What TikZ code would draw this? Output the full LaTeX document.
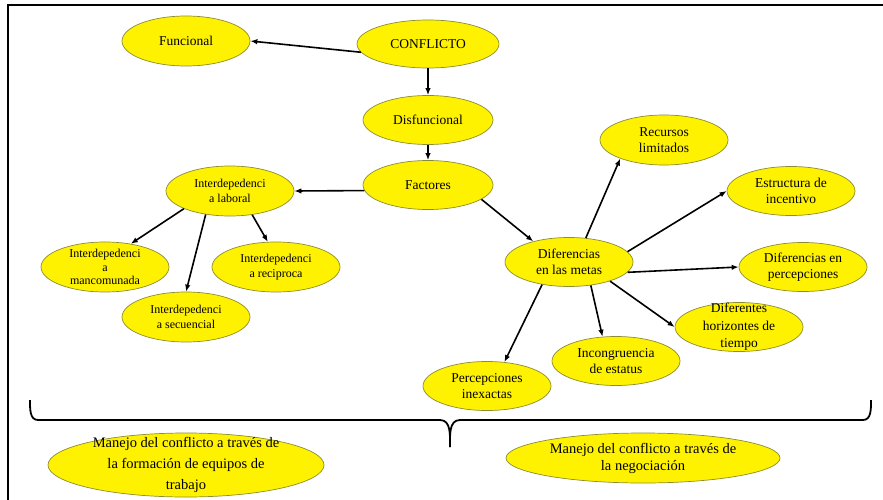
\documentclass[tikz,border=0pt]{standalone}
\usepackage{fontspec}
\setmainfont{Liberation Serif}
\usetikzlibrary{shapes.geometric,arrows.meta}
\tikzset{
  bubble/.style={ellipse,fill=yellow,draw={rgb,255:red,140;green,140;blue,50},line width=0.7pt,
    minimum width=128pt,minimum height=49pt,inner sep=0pt,align=center,
    font=\fontsize{13.5}{16.5}\selectfont},
  smalltext/.style={font=\fontsize{12}{14.5}\selectfont},
  link/.style={->,line width=1.6pt},
}

\begin{document}
\begin{tikzpicture}[>={Latex[length=7pt,width=5.5pt]},x=1pt,y=-1pt]
  \useasboundingbox (0,0) rectangle (883,500);
  \draw[line width=2pt] (7.5,500) -- (7.5,5.5) -- (883,5.5);
  \node[bubble,minimum width=142pt,minimum height=48pt] (conf) at (428,44) {CONFLICTO};
  \node[bubble,minimum height=50pt] (func) at (186,41) {Funcional};
  \node[bubble,minimum width=130pt] (disf) at (428,120) {Disfuncional};
  \node[bubble,minimum width=130pt] (fact) at (428,185) {Factores};
  \node[bubble,smalltext,minimum height=50pt] (lab) at (230,191) {Interdepedenci\\a laboral};
  \node[bubble,minimum height=50pt,font=\fontsize{12}{13.3}\selectfont,inner ysep=-3pt] (manc) at (105,267) {Interdepedenci\\a\\mancomunada};
  \node[bubble,smalltext,minimum height=50pt] (reci) at (276,267) {Interdepedenci\\a reciproca};
  \node[bubble,smalltext,minimum height=50pt] (secu) at (186,317) {Interdepedenci\\a secuencial};
  \node[bubble] (metas) at (569,262) {Diferencias\\en las metas};
  \node[bubble,minimum height=50pt] (recu) at (664,140) {Recursos\\limitados};
  \node[bubble] (estr) at (791,191) {Estructura de\\incentivo};
  \node[bubble] (perc) at (803,267) {Diferencias en\\percepciones};
  \node[bubble,font=\fontsize{13.5}{17.5}\selectfont,inner ysep=-8pt] (hori) at (739,327) {Diferentes\\horizontes de\\tiempo};
  \node[bubble] (inco) at (616,361) {Incongruencia\\de estatus};
  \node[bubble] (inex) at (487,386) {Percepciones\\inexactas};
  \node[bubble,minimum width=276pt,minimum height=64pt,font=\fontsize{14.5}{21}\selectfont,inner ysep=-6pt] (equi) at (186,465) {Manejo del conflicto a través de\\la formación de equipos de\\trabajo};
  \node[bubble,minimum width=274pt,minimum height=50pt,font=\fontsize{14.5}{17}\selectfont] (nego) at (643,458) {Manejo del conflicto a través de\\la negociación};

  \draw[link] (conf.187) -- (func.0);
  \draw[link] (conf) -- (disf);
  \draw[link] (disf) -- (fact);
  \draw[link] (fact.185) -- (lab.0);
  \draw[link] (fact.-15) -- (metas.150);
  \draw[link] (lab.201) -- (manc.42);
  \draw[link] (lab.224) -- (secu.90);
  \draw[link] (lab.313) -- (reci.108);
  \draw[link] (metas.55) -- (recu.203);
  \draw[link] (metas.10) -- (estr.180);
  \draw[link] (metas.-10) -- (perc.180);
  \draw[link] (metas.-25) -- (hori.180);
  \draw[link] (metas.-47) -- (inco.119);
  \draw[link] (metas.220) -- (inex.54);

  \draw[line width=1.8pt] (30,400) to[out=-90,in=180] (38,420) -- (440,420) to[out=0,in=90] (450,447);
  \draw[line width=1.8pt] (871,400) to[out=-90,in=0] (863,420) -- (460,420) to[out=180,in=90] (450,447);
\end{tikzpicture}
\end{document}
